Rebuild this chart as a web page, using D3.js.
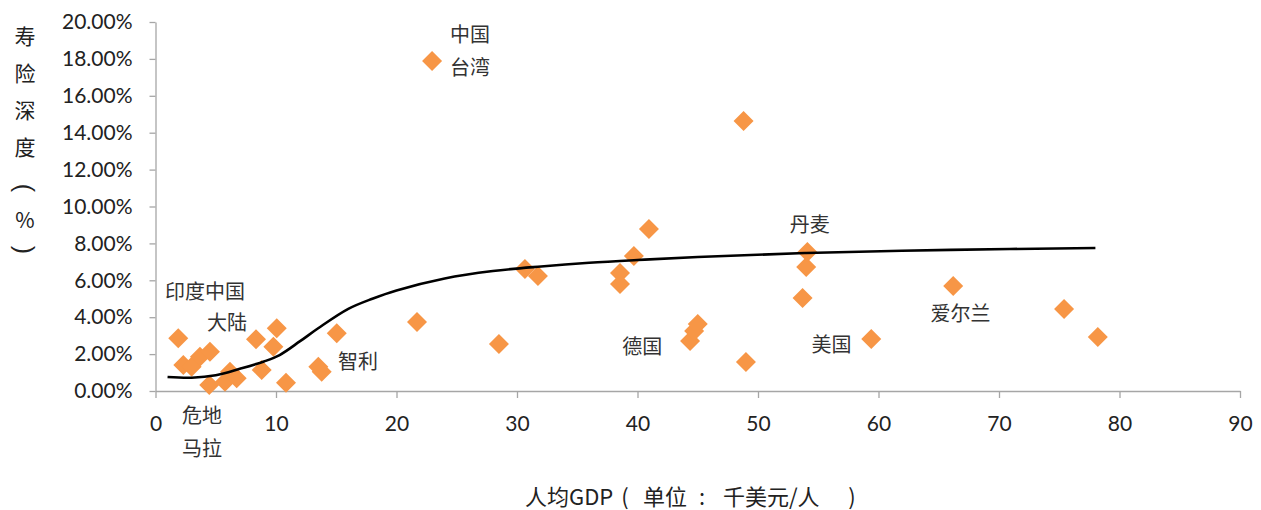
<!DOCTYPE html>
<html>
<head>
<meta charset="utf-8">
<script src="https://cdn.jsdelivr.net/npm/d3@7/dist/d3.min.js"></script>
<style>
  html, body { margin: 0; padding: 0; background: #ffffff; }
  svg { display: block; }
</style>
</head>
<body>
<svg id="chart" width="1261" height="510"></svg>
<script>
// ---- data ----
const gdp = [1.89, 2.31, 3.0, 3.69, 4.52, 4.46, 5.77, 6.18, 6.74, 8.34, 8.81, 9.78, 10.06, 10.83,
             13.51, 13.79, 15.04, 21.7, 22.95, 28.5, 30.66, 31.74, 38.55, 38.55, 39.7, 40.95,
             44.36, 44.7, 45.0, 48.8, 49.0, 53.7, 54.0, 54.1, 59.4, 66.2, 75.4, 78.2];
const depth = [2.86, 1.41, 1.32, 1.86, 2.13, 0.33, 0.50, 1.05, 0.69, 2.80, 1.14, 2.40, 3.40, 0.45,
               1.32, 1.05, 3.13, 3.74, 17.89, 2.55, 6.61, 6.23, 6.40, 5.80, 7.32, 8.78,
               2.71, 3.25, 3.63, 14.63, 1.57, 5.04, 6.72, 7.53, 2.82, 5.69, 4.44, 2.93];

const trendX = [1.0, 3, 5, 7, 9, 10.3, 12, 13.5, 16, 18, 20, 24, 28, 32, 36, 40, 45, 54, 66, 78];
const trendY = [0.76, 0.72, 0.85, 1.2, 1.6, 1.95, 2.7, 3.4, 4.45, 5.0, 5.45, 6.1, 6.5, 6.75, 6.95, 7.1, 7.26, 7.48, 7.65, 7.75];

const labelText = ["中国", "台湾", "丹麦", "爱尔兰", "美国", "德国", "智利", "印度中国", "大陆", "危地", "马拉"];
const labelX    = [26.1, 26.1, 54.3, 66.8, 56.1, 40.4, 16.8, 4.1, 5.93, 3.86, 3.86];
const labelY    = [19.4, 17.6, 9.1, 4.23, 2.55, 2.49, 1.68, 5.47, 3.74, -1.3, -3.04];

const xTicks = [0, 10, 20, 30, 40, 50, 60, 70, 80, 90];
const yTicks = [0, 2, 4, 6, 8, 10, 12, 14, 16, 18, 20];
const yTickLabels = ["0.00%", "2.00%", "4.00%", "6.00%", "8.00%", "10.00%", "12.00%", "14.00%", "16.00%", "18.00%", "20.00%"];

const yTitleChars = ["寿", "险", "深", "度", "(", "%", ")"];
const xTitleParts = ["人均GDP", "(", "单位", ":", "千美元/人", ")"];

// ---- chart ----
const svg = d3.select("#chart");
const x = d3.scaleLinear().domain([0, 90]).range([155.5, 1240]);
const y = d3.scaleLinear().domain([0, 20]).range([391, 22]);

const axisColor = "#a6a6a6";
const tickFont = "Lato, 'Open Sans', 'Noto Sans', sans-serif";
const cjkFont = "'Noto Sans CJK SC', 'Noto Sans', sans-serif";

// x axis
const gx = svg.append("g").attr("transform", `translate(0,${y(0)})`)
  .call(d3.axisBottom(x).tickValues(xTicks).tickSize(7).tickPadding(18).tickSizeOuter(0));
gx.select(".domain").attr("stroke", axisColor).attr("stroke-width", 1.3);
gx.selectAll(".tick line").attr("stroke", axisColor).attr("stroke-width", 1.3);
gx.selectAll(".tick text").attr("font-family", tickFont).attr("font-size", 21).attr("fill", "#222");

// y axis
const gy = svg.append("g").attr("transform", `translate(${x(0)},0)`)
  .call(d3.axisLeft(y).tickValues(yTicks).tickFormat((d, i) => yTickLabels[i]).tickSize(6).tickPadding(17).tickSizeOuter(0));
gy.select(".domain").attr("stroke", axisColor).attr("stroke-width", 1.3);
gy.selectAll(".tick line").attr("stroke", axisColor).attr("stroke-width", 1.3);
gy.selectAll(".tick text").attr("font-family", tickFont).attr("font-size", 21).attr("fill", "#222");

// markers
const diamond = d3.symbol().type(d3.symbolSquare).size(200);
svg.append("g").selectAll("path")
  .data(gdp.map((g, i) => [g, depth[i]]))
  .join("path")
  .attr("d", diamond)
  .attr("transform", d => `translate(${x(d[0])},${y(d[1])}) rotate(45)`)
  .attr("fill", "#f79646");

// trend line
const line = d3.line().x(d => x(d[0])).y(d => y(d[1])).curve(d3.curveCatmullRom.alpha(0.5));
svg.append("path")
  .datum(trendX.map((t, i) => [t, trendY[i]]))
  .attr("d", line)
  .attr("fill", "none")
  .attr("stroke", "#000")
  .attr("stroke-width", 2.6);

// labels
svg.append("g").selectAll("text")
  .data(labelText.map((t, i) => ({t, x: labelX[i], y: labelY[i]})))
  .join("text")
  .attr("x", d => x(d.x))
  .attr("y", d => y(d.y))
  .attr("text-anchor", "middle")
  .attr("dominant-baseline", "central")
  .attr("font-family", cjkFont)
  .attr("font-size", 20)
  .attr("fill", "#333")
  .text(d => d.t);

// y title (vertical; brackets rotated)
const isParen = d => d === "(" || d === ")";
const yTitlePos = [35, 72, 109, 146, 188, 219, 250];
svg.append("g").selectAll("text")
  .data(yTitleChars)
  .join("text")
  .attr("x", 0)
  .attr("y", 0)
  .attr("transform", (d, i) => `translate(25,${yTitlePos[i]})` + (isParen(d) ? " rotate(90)" : ""))
  .attr("text-anchor", "middle")
  .attr("dominant-baseline", "central")
  .attr("font-family", d => isParen(d) ? "'Liberation Sans', sans-serif" : cjkFont)
  .attr("font-size", d => isParen(d) ? 25 : 21)
  .attr("fill", "#222")
  .text(d => d);

// x title, laid out piece by piece like the reference's wide brackets
const xTitleAt = [525, 625, 643, 702, 723, 852];
const xTitleAnchor = ["start", "middle", "start", "middle", "start", "middle"];
svg.append("g").selectAll("text")
  .data(xTitleParts)
  .join("text")
  .attr("x", (d, i) => xTitleAt[i])
  .attr("y", 495)
  .attr("text-anchor", (d, i) => xTitleAnchor[i])
  .attr("dominant-baseline", "central")
  .attr("font-family", cjkFont)
  .attr("font-size", 22)
  .attr("fill", "#222")
  .text(d => d);
</script>
</body>
</html>
